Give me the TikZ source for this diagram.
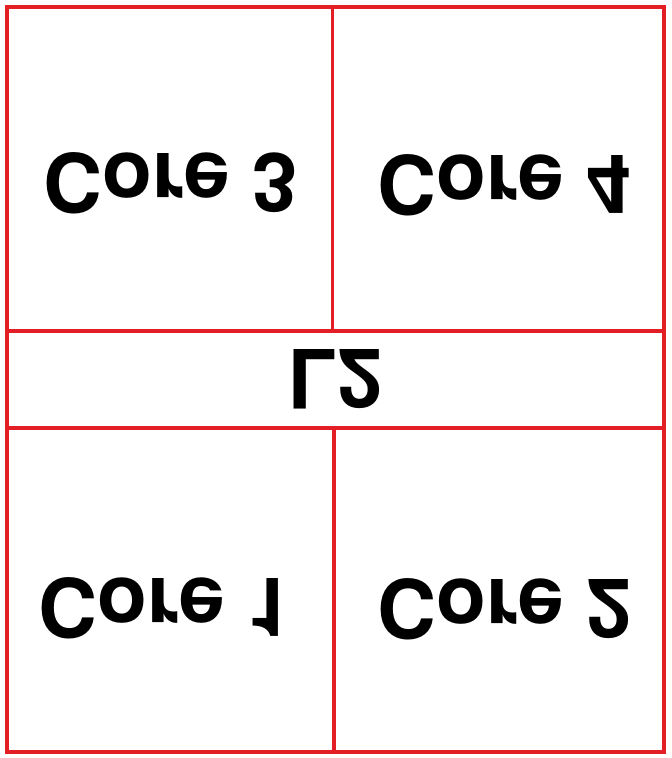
\documentclass[tikz,border=0pt]{standalone}
\usepackage{fontspec}
\setmainfont{TeX Gyre Heros}
\usepackage{tikz}
\usetikzlibrary{positioning}
\definecolor{wall}{HTML}{E31E24}
\tikzset{
  die line/.style={
    draw=wall,
    line width=3.4bp
  },
  core label/.style={
    yscale=-1,
    inner sep=0pt,
    font=\fontsize{82}{82}\selectfont\bfseries
  }
}
\begin{document}
\begin{tikzpicture}[x=1bp, y=-1bp]
  \useasboundingbox (0,0) rectangle (672,758);
  % outline and split lines
  \draw[die line] (7,7) rectangle (664,752);
  \draw[die line] (7,331) -- (664,331);
  \draw[die line] (7,428) -- (664,428);
  \draw[die line] (332.5,7) -- (332.5,331);
  \draw[die line] (334,428) -- (334,752);
  % labels, mirrored top to bottom
  \node[core label] (core3) at (171,183) {Core 3};
  \node[core label] (core4) at (505,185) {Core 4};
  \node[core label] (l2)    at (335,379) {L2};
  \node[core label] (core1) at (166,608) {Core 1};
  \node[core label] (core2) at (505,609) {Core 2};
\end{tikzpicture}
\end{document}
